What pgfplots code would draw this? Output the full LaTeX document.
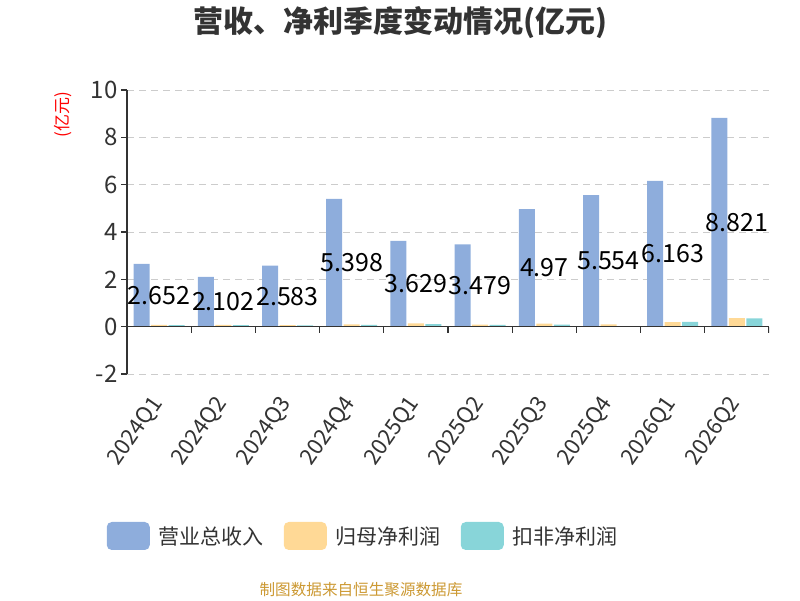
\documentclass[border=0pt]{standalone}
\usepackage{pgfplots}
\pgfplotsset{compat=1.18}
\usepackage{fontspec}
\setmainfont{Noto Sans CJK SC}
\definecolor{c1}{HTML}{8EADDC}
\definecolor{c2}{HTML}{FFD996}
\definecolor{c3}{HTML}{88D5D9}
\definecolor{axisgray}{HTML}{333333}
\definecolor{gridgray}{HTML}{CCCCCC}
\definecolor{textgray}{HTML}{333333}
\definecolor{footgold}{HTML}{CC9933}
\begin{document}
\begin{tikzpicture}
\path[use as bounding box] (0,0) rectangle (800pt,600pt);
\begin{axis}[
  at={(127pt,226pt)}, anchor=south west, scale only axis,
  width=642pt, height=284pt,
  xmin=-0.5, xmax=9.5, ymin=-2, ymax=10,
  ytick={-2,0,...,10},
  axis y line=left, axis x line=bottom,
  x axis line style={draw=none},
  y axis line style={-, line width=1.2pt, color=axisgray},
  xtick={0,...,9},
  xticklabels={2024Q1,2024Q2,2024Q3,2024Q4,2025Q1,2025Q2,2025Q3,2025Q4,2026Q1,2026Q2},
  major x tick style={draw=none},
  ytick align=outside,
  major y tick style={line width=1.2pt, color=axisgray},
  major tick length=6pt,
  ymajorgrids,
  grid style={color=gridgray, line width=1pt, dash pattern=on 7pt off 5pt},
  /pgf/number format/assume math mode=true,
  yticklabel style={font=\fontsize{24}{24}\selectfont, text=textgray},
  xticklabel style={xshift=1pt, yshift=-17pt, rotate=55, anchor=east, font=\fontsize{22}{22}\selectfont, text=textgray},
  ybar=1.5pt, bar width=16pt,
  legend style={at={(0.368,-0.5704)}, anchor=center, draw=none, fill=none,
    legend columns=3, font=\fontsize{21}{24}\selectfont, text=textgray,
    /tikz/every odd column/.append style={column sep=7pt},
    /tikz/every even column/.append style={column sep=18pt}},
  legend cell align=left,
]
\addplot[fill=c1, draw=none,
  legend image code/.code={\fill[c1, rounded corners=5pt] (0pt,-14pt) rectangle (43pt,14pt);},
  visualization depends on={rawy \as \rawy},
  nodes near coords={\pgfmathprintnumber[precision=3,assume math mode=true]{\pgfplotspointmeta}},
  every node near coord/.style={anchor=center, text=black, font=\fontsize{25}{25}\selectfont, yshift={-11.8333pt*\rawy}},
] coordinates {(0,2.652) (1,2.102) (2,2.583) (3,5.398) (4,3.629) (5,3.479) (6,4.97) (7,5.554) (8,6.163) (9,8.821)};
\addlegendentry{营业总收入}
\addplot[fill=c2, draw=none,
  legend image code/.code={\fill[c2, rounded corners=5pt] (0pt,-14pt) rectangle (43pt,14pt);},
] coordinates {(0,0.08) (1,0.08) (2,0.07) (3,0.10) (4,0.14) (5,0.09) (6,0.13) (7,0.10) (8,0.19) (9,0.36)};
\addlegendentry{归母净利润}
\addplot[fill=c3, draw=none,
  legend image code/.code={\fill[c3, rounded corners=5pt] (0pt,-14pt) rectangle (43pt,14pt);},
] coordinates {(0,0.06) (1,0.07) (2,0.05) (3,0.08) (4,0.11) (5,0.08) (6,0.09) (7,0.01) (8,0.20) (9,0.35)};
\addlegendentry{扣非净利润}
\draw[axisgray, line width=1.2pt] (axis cs:-0.5,0) -- (axis cs:9.5,0);
\pgfplotsinvokeforeach{-0.5,0.5,1.5,2.5,3.5,4.5,5.5,6.5,7.5,8.5,9.5}{
  \draw[axisgray, line width=1.2pt] (axis cs:#1,0) -- ([yshift=-6pt]axis cs:#1,0);
}
\end{axis}
\node[font=\fontsize{30}{34}\selectfont\bfseries, text=textgray] at (400pt,577pt) {营收、净利季度变动情况(亿元)};
\node[rotate=90, text=red, font=\fontsize{17}{17}\selectfont] at (63pt,485pt) {(亿元)};
\node[text=footgold, font=\fontsize{15.6}{16}\selectfont] at (361pt,10pt) {制图数据来自恒生聚源数据库};
\end{tikzpicture}
\end{document}
